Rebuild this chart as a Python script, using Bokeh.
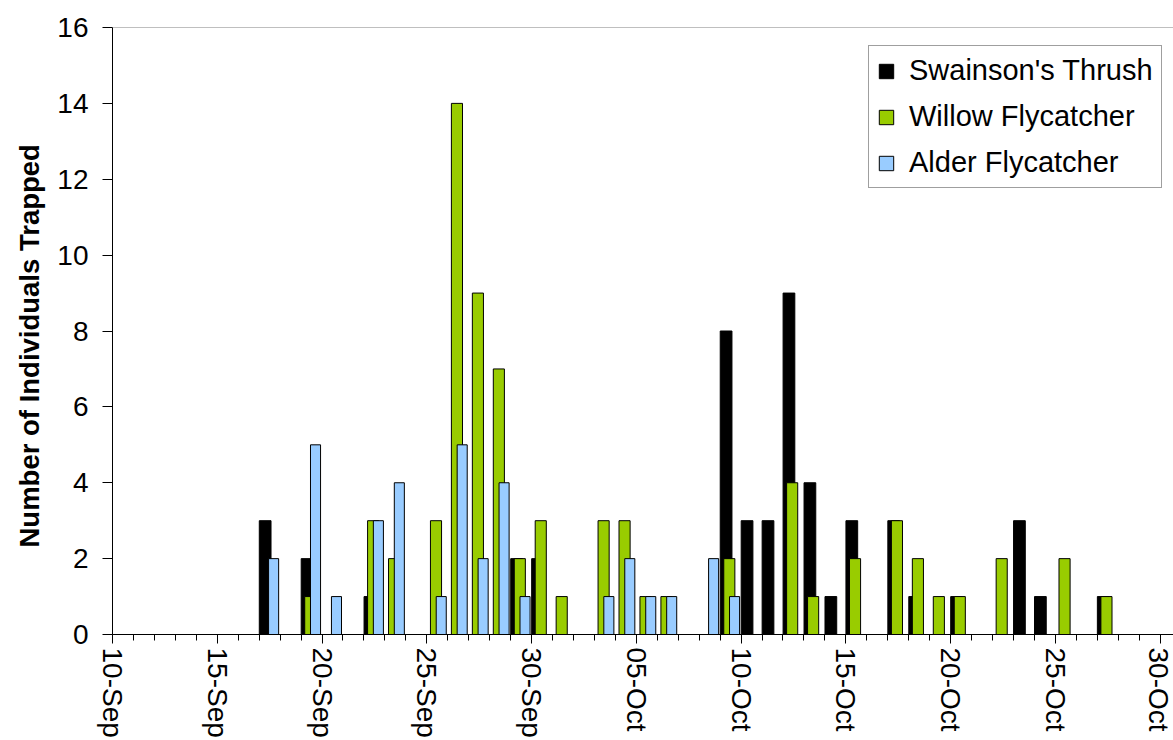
import pandas as pd
from bokeh.plotting import figure
from bokeh.models import Range1d, FixedTicker, Span, Legend, LegendItem, ColumnDataSource, Title
from bokeh.embed import file_html
from bokeh.resources import INLINE

# ---- data ----
dates = ["17-Sep", "19-Sep", "20-Sep", "22-Sep", "23-Sep", "25-Sep", "26-Sep", "27-Sep",
         "28-Sep", "29-Sep", "30-Sep",
         "01-Oct", "03-Oct", "04-Oct", "05-Oct", "06-Oct", "08-Oct", "09-Oct", "10-Oct",
         "11-Oct", "12-Oct", "13-Oct", "14-Oct", "15-Oct",
         "17-Oct", "18-Oct", "19-Oct", "20-Oct", "22-Oct", "23-Oct", "24-Oct", "25-Oct", "27-Oct"]
swainsons_thrush = [3, 2, 0, 1, 0, 0, 0, 0, 0, 2, 2,
                    0, 0, 0, 0, 0, 0, 8, 3, 3, 9, 4, 1, 3,
                    3, 1, 0, 1, 0, 3, 1, 0, 1]
willow_flycatcher = [0, 1, 0, 3, 2, 3, 14, 9, 7, 2, 3,
                     1, 3, 3, 1, 1, 0, 2, 0, 0, 4, 1, 0, 2,
                     3, 2, 1, 1, 2, 0, 0, 2, 1]
alder_flycatcher = [2, 5, 1, 3, 4, 1, 5, 2, 4, 1, 0,
                    0, 1, 2, 1, 1, 2, 1, 0, 0, 0, 0, 0, 0,
                    0, 0, 0, 0, 0, 0, 0, 0, 0]
tick_labels = ["10-Sep", "15-Sep", "20-Sep", "25-Sep", "30-Sep", "05-Oct",
               "10-Oct", "15-Oct", "20-Oct", "25-Oct", "30-Oct"]
series_names = ["Swainson's Thrush", "Willow Flycatcher", "Alder Flycatcher"]
series_colors = ["#000000", "#99CC00", "#99CCFF"]
y_title = "Number of Individuals Trapped"

# ---- helpers ----
YEAR = "2009"
start = pd.to_datetime(tick_labels[0] + "-" + YEAR, format="%d-%b-%Y")

def day_index(label):
    return (pd.to_datetime(label + "-" + YEAR, format="%d-%b-%Y") - start).days

day_pos = [day_index(d) for d in dates]
tick_pos = [day_index(t) for t in tick_labels]

FONT = "Liberation Sans"

p = figure(width=1173, height=740, output_backend="svg", toolbar_location=None,
           x_range=Range1d(0, 50.64), y_range=Range1d(0, 16),
           min_border_left=112, min_border_top=27, min_border_bottom=106, min_border_right=0)
p.background_fill_color = "white"
p.border_fill_color = "white"
p.outline_line_color = None
p.xgrid.visible = False
p.ygrid.visible = False

offsets = [0.286, 0.44, 0.69]
widths = [0.56, 0.53, 0.48]
renderers = []
for vals, color, off, w in zip([swainsons_thrush, willow_flycatcher, alder_flycatcher],
                               series_colors, offsets, widths):
    xs = [d + off for d, v in zip(day_pos, vals) if v > 0]
    ys = [v for v in vals if v > 0]
    src = ColumnDataSource(dict(x=xs, top=ys))
    r = p.vbar(x="x", top="top", bottom=0, width=w, source=src,
               fill_color=color, line_color="black", line_width=1)
    renderers.append(r)

# top border of plot area
p.add_layout(Span(location=16, dimension="width", line_color="#808080", line_width=1))

# x axis
xa = p.xaxis[0]
xa.ticker = FixedTicker(ticks=tick_pos, minor_ticks=list(range(0, 51)))
xa.major_label_overrides = {t: lab for t, lab in zip(tick_pos, tick_labels)}
xa.major_label_orientation = "vertical"
xa.major_label_text_font = FONT
xa.major_label_text_font_size = "28px"
xa.major_label_text_color = "black"
xa.major_label_standoff = 4
xa.major_tick_out = 9
xa.major_tick_in = 0
xa.minor_tick_out = 6
xa.minor_tick_in = 0
xa.axis_line_color = "black"
xa.major_tick_line_color = "black"
xa.minor_tick_line_color = "black"

# y axis
ya = p.yaxis[0]
ya.ticker = FixedTicker(ticks=list(range(0, 17, 2)))
ya.major_label_text_font = FONT
ya.major_label_text_font_size = "28px"
ya.major_label_text_color = "black"
ya.major_label_standoff = 14
ya.major_tick_out = 10
ya.major_tick_in = 0
ya.minor_tick_line_color = None
ya.axis_line_color = "black"
ya.major_tick_line_color = "black"

# y axis title (side title starting a little above the frame bottom)
yt = Title(text=y_title, align="left", offset=87, standoff=20,
           text_font=FONT, text_font_style="bold", text_font_size="27.5px",
           text_color="black")
p.add_layout(yt, "left")

legend = Legend(items=[LegendItem(label=n, renderers=[r]) for n, r in zip(series_names, renderers)],
                location=(756, 446))
legend.margin = 0
legend.padding = 8
legend.spacing = 13
legend.label_height = 30
legend.glyph_width = 18
legend.glyph_height = 18
legend.label_standoff = 14
legend.label_text_font = FONT
legend.label_text_font_size = "29px"
legend.label_text_color = "black"
legend.border_line_color = "#404040"
legend.border_line_width = 1
legend.background_fill_color = "white"
legend.background_fill_alpha = 1
p.add_layout(legend)

open("out.html", "w").write(file_html(p, INLINE))
